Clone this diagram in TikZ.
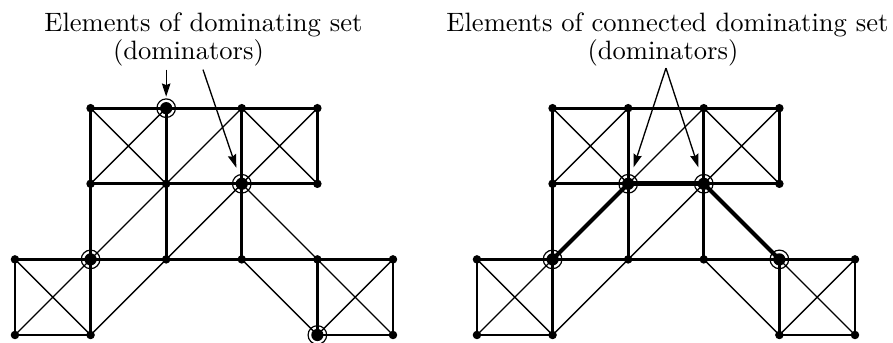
\documentclass[tikz,border=0pt]{standalone}
\usetikzlibrary{arrows.meta}
\begin{document}
\begin{tikzpicture}[
    aresta/.style={line width=1.1pt},
    diagonal/.style={line width=0.5pt},
    anel/.style={line width=0.45pt},
    seta/.style={-{Stealth[length=5pt,width=3.2pt,inset=0.6pt]},line width=0.5pt}
]
    % margens
    \useasboundingbox (-0.198,-0.093) rectangle (11.614,4.431);

    % parâmetros
    \def\rp{1.6pt}
    \def\rd{2.3pt}
    \def\ra{3.5pt}

    % os dois grafos
    \foreach \g/\dx in {a/0,b/6.111}{
        % vértices
        \foreach \i/\j in {1/3,2/3,3/3,4/3,1/2,2/2,3/2,4/2,0/1,1/1,2/1,3/1,4/1,5/1,0/0,1/0,4/0,5/0}
            \coordinate (\g\i\j) at (\dx+\i,\j);

        % grade
        \draw[aresta] (\g13) -- (\g43) (\g12) -- (\g42) (\g01) -- (\g51)
            (\g00) -- (\g10) (\g40) -- (\g50);
        \draw[aresta] (\g13) -- (\g10) (\g23) -- (\g21) (\g33) -- (\g31)
            (\g43) -- (\g42) (\g01) -- (\g00) (\g41) -- (\g40) (\g51) -- (\g50);

        % diagonais
        \draw[diagonal] (\g13) -- (\g22) (\g12) -- (\g23) (\g33) -- (\g42) (\g32) -- (\g43);
        \draw[diagonal] (\g01) -- (\g10) (\g00) -- (\g33) (\g10) -- (\g32);
        \draw[diagonal] (\g32) -- (\g50) (\g31) -- (\g40) (\g40) -- (\g51);
    }

    % conjunto dominante conexo
    \draw[line width=2pt] (b22) -- (b32);
    \draw[line width=1.5pt] (b11) -- (b22) (b32) -- (b41);

    % pontos
    \foreach \g in {a,b}
        \foreach \i/\j in {1/3,2/3,3/3,4/3,1/2,2/2,3/2,4/2,0/1,1/1,2/1,3/1,4/1,5/1,0/0,1/0,4/0,5/0}
            \fill (\g\i\j) circle (\rp);

    % dominadores
    \foreach \p in {a23,a32,a11,a40,b22,b32,b11,b41}{
        \fill (\p) circle (\rd);
        \draw[anel] (\p) circle (\ra);
    }

    % rótulos
    \node[anchor=base] (rotA1) at (2.493,4.015) {Elements of dominating set};
    \node[anchor=base] (rotA2) at (2.295,3.638) {(dominators)};
    \node[anchor=base] (rotB1) at (8.631,4.015) {Elements of connected dominating set};
    \node[anchor=base] (rotB2) at (8.571,3.638) {(dominators)};

    % setas
    \coordinate (pA1) at (2,3.51);
    \coordinate (pA2) at (2.487,3.51);
    \coordinate (pB) at (8.611,3.53);
    \draw[seta,shorten >=4.3pt] (pA1) -- (a23);
    \draw[seta,shorten >=6.4pt] (pA2) -- (a32);
    \draw[seta,shorten >=6.5pt] (pB) -- (b22);
    \draw[seta,shorten >=6.5pt] (pB) -- (b32);
\end{tikzpicture}
\end{document}
